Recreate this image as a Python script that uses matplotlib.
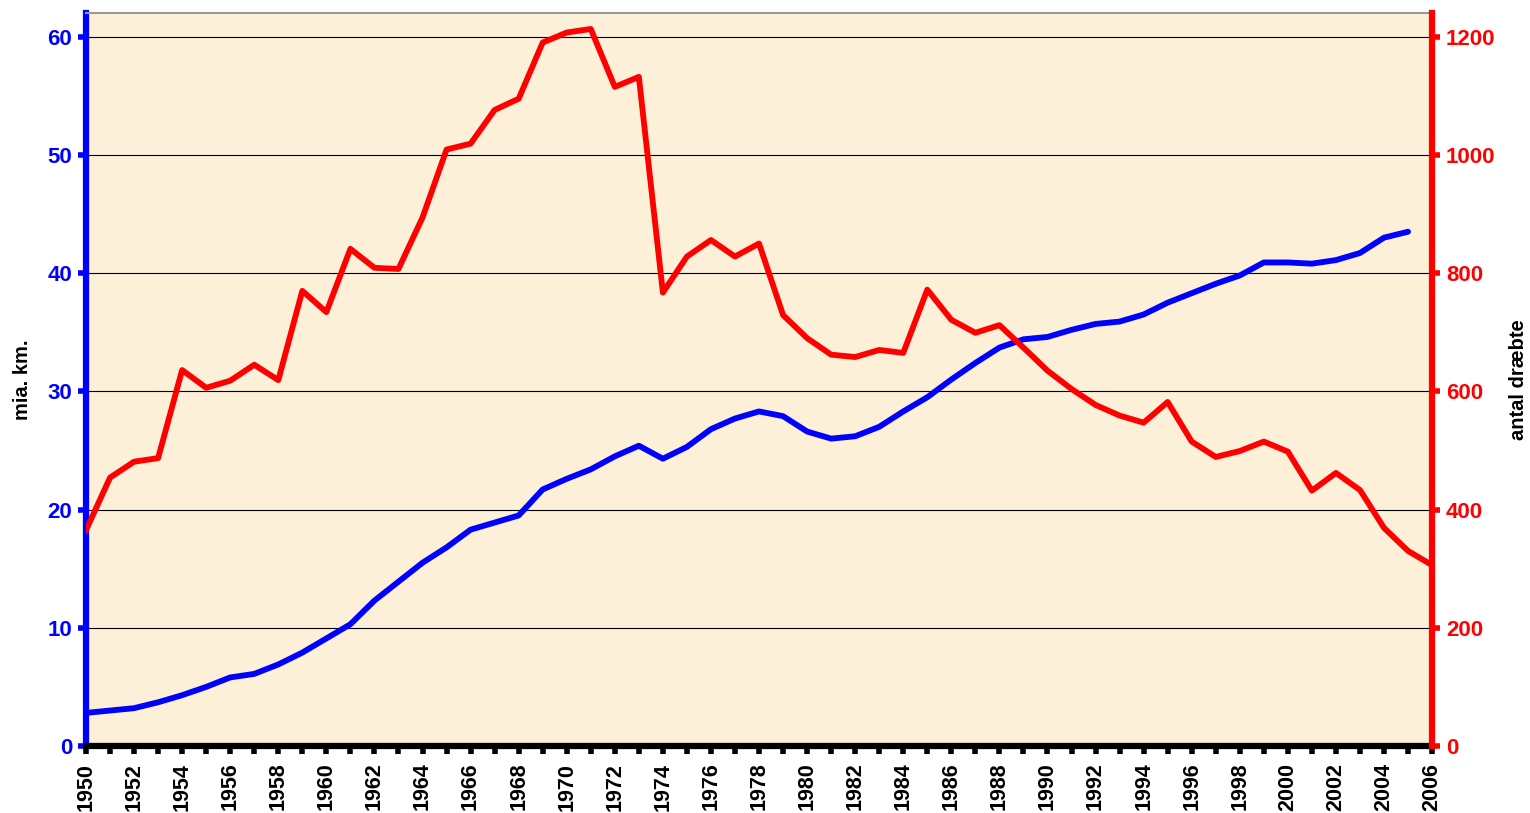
import numpy as np
import matplotlib.pyplot as plt

# road traffic (billion km) and people killed, Denmark 1950-2006
years = list(range(1950, 2007))

km_years = list(range(1950, 2006))
km = [2.8, 3.0, 3.2, 3.7, 4.3, 5.0, 5.8, 6.1, 6.9, 7.9,
      9.1, 10.3, 12.3, 13.9, 15.5, 16.8, 18.3, 18.9, 19.5, 21.7,
      22.6, 23.4, 24.5, 25.4, 24.3, 25.3, 26.8, 27.7, 28.3, 27.9,
      26.6, 26.0, 26.2, 27.0, 28.3, 29.5, 31.0, 32.4, 33.7, 34.4,
      34.6, 35.2, 35.7, 35.9, 36.5, 37.5, 38.3, 39.1, 39.8, 40.9,
      40.9, 40.8, 41.1, 41.7, 43.0, 43.5]

killed = [365, 454, 481, 487, 636, 606, 618, 645, 619, 770,
          734, 841, 809, 807, 894, 1009, 1019, 1076, 1095, 1190,
          1207, 1213, 1115, 1132, 767, 828, 856, 828, 850, 729,
          690, 662, 658, 670, 665, 772, 721, 699, 712, 674,
          635, 604, 577, 559, 547, 582, 515, 489, 499, 515,
          498, 432, 462, 433, 369, 330, 306]

left_ticks = [0, 10, 20, 30, 40, 50, 60]
right_ticks = [0, 200, 400, 600, 800, 1000, 1200]
year_labels = list(range(1950, 2007, 2))

plt.rcParams['font.family'] = ['Liberation Sans', 'DejaVu Sans']

fig = plt.figure(figsize=(15.3, 8.13), dpi=100)
ax = fig.add_axes([0.0562, 0.0824, 0.8798, 0.9016])
ax.set_facecolor('#FCF0D8')

ax.set_xlim(1950, 2006)
ax.set_ylim(0, 62)
ax.set_yticks(left_ticks)
ax.yaxis.grid(True, color='black', linewidth=0.8)
ax.set_axisbelow(True)

ax2 = ax.twinx()
ax2.set_ylim(0, 1240)
ax2.set_yticks(right_ticks)

ax.plot(km_years, km, color='#0000FF', linewidth=4.2, solid_joinstyle='round',
        solid_capstyle='round', zorder=3)
ax2.plot(years, killed, color='#FF0000', linewidth=4.2, solid_joinstyle='round', zorder=3)

ax.set_xticks(years)
ax.set_xticklabels([str(y) if y in year_labels else '' for y in years],
                   rotation=90, fontsize=15.5, fontweight='bold')

# spines
ax.spines['left'].set_color('#0000FF')
ax.spines['left'].set_linewidth(4.5)
ax.spines['bottom'].set_color('black')
ax.spines['bottom'].set_linewidth(4.5)
ax.spines['top'].set_color('#999999')
ax.spines['top'].set_linewidth(1.5)
ax.spines['right'].set_visible(False)
ax2.spines['right'].set_color('#FF0000')
ax2.spines['right'].set_linewidth(4.5)
for s in ['left', 'top', 'bottom']:
    ax2.spines[s].set_visible(False)

ax.tick_params(axis='y', colors='#0000FF', width=4, length=6, labelsize=16, pad=4)
ax.tick_params(axis='x', colors='black', width=4, length=6, labelsize=15.5, pad=6)
ax2.tick_params(axis='y', colors='#FF0000', width=4, length=6, labelsize=16, pad=4)
for lbl in ax.get_yticklabels() + ax2.get_yticklabels() + ax.get_xticklabels():
    lbl.set_fontweight('bold')

# axis titles placed on the figure
fig.text(0.0144, 0.5326, 'mia. km.', rotation=90, ha='center', va='center',
         fontsize=14.5, fontweight='bold')
fig.text(0.9922, 0.5326, 'antal dræbte', rotation=90, ha='center', va='center',
         fontsize=14.5, fontweight='bold')

fig.savefig('out.png', dpi=100)
